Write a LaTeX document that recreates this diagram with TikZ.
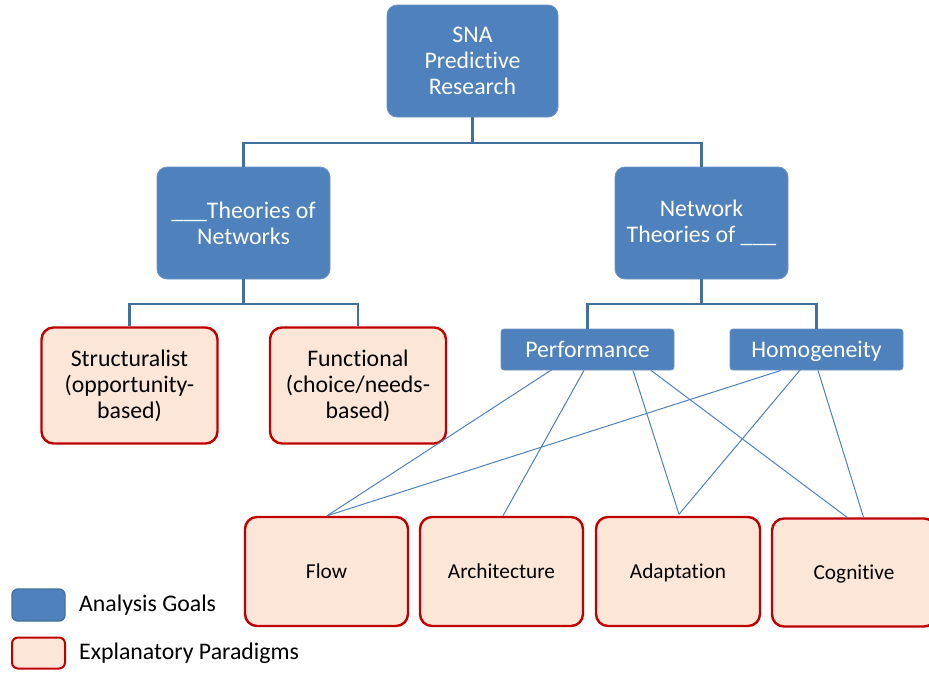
\documentclass[tikz,border=0pt]{standalone}
\usepackage{fontspec}
\setmainfont{Carlito}[RawFeature={-liga;-clig;-dlig}]
\definecolor{goalblue}{HTML}{4F81BD}
\definecolor{goaledge}{HTML}{41719C}
\definecolor{paraedge}{HTML}{C00000}
\definecolor{parafill}{HTML}{FCE6D7}
\begin{document}
\begin{tikzpicture}[x=1pt,y=-1pt,
  goal/.style={draw=goalblue!85!white,line width=0.8pt,fill=goalblue,rounded corners=10pt,
    text=white,align=center,inner sep=0pt,font=\fontsize{23.8}{26}\selectfont},
  smallgoal/.style={goal,rounded corners=3pt,text height=19pt,text depth=4pt},
  paradigm/.style={draw=paraedge,line width=2.4pt,fill=parafill,rounded corners=12pt,
    text=black,align=center,inner sep=0pt,font=\fontsize{23.8}{26}\selectfont},
  bottombox/.style={paradigm,font=\fontsize{21.3}{24}\selectfont,text height=18pt,text depth=4pt},
  tree/.style={draw=goaledge,line width=2.6pt},
  link/.style={draw=goalblue,line width=1pt},
  legendtext/.style={anchor=west,inner sep=0pt,font=\fontsize{23.8}{26}\selectfont}]
\useasboundingbox (0,0) rectangle (929,672);

% analysis goals
\node[goal,minimum width=171pt,minimum height=112pt] (sna) at (472.5,61)
  {SNA\\Predictive\\Research};
\node[goal,minimum width=173pt,minimum height=112pt] (theo) at (243.5,223)
  {\_\_\_Theories of\\Networks};
\node[goal,minimum width=173pt,minimum height=112pt] (net) at (701.5,223)
  {Network\\Theories of \_\_\_};
\node[smallgoal,minimum width=173pt,minimum height=41pt] (perf) at (587.5,349.5) {Performance};
\node[smallgoal,minimum width=173pt,minimum height=41pt] (homo) at (816.5,349.5) {Homogeneity};

% explanatory paradigms
\node[paradigm,minimum width=176pt,minimum height=116pt] (struct) at (129.5,385.5)
  {Structuralist\\(opportunity-\\based)};
\node[paradigm,minimum width=176pt,minimum height=116pt] (func) at (358,385.5)
  {Functional\\(choice/needs-\\based)};
\node[bottombox,minimum width=163pt,minimum height=109pt] (flow) at (326.5,571.5) {Flow};
\node[bottombox,minimum width=163pt,minimum height=109pt] (arch) at (501.5,571.5) {Architecture};
\node[bottombox,minimum width=164pt,minimum height=109pt] (adap) at (678,571.5) {Adaptation};
\node[bottombox,minimum width=164pt,minimum height=108pt] (cogn) at (854,572.5) {Cognitive};

% hierarchy
\draw[tree] (sna.south) |- (243.5,143) coordinate (tl) -- (theo.north);
\draw[tree] (sna.south) |- (701.5,143) coordinate (tr) -- (net.north);
\draw[tree] (theo.south) |- (129.5,304) coordinate (sl) -- (struct.north);
\draw[tree] (theo.south) |- (358,304) coordinate (sr) -- (func.north);
\draw[tree] (net.south) |- (587.5,304) coordinate (pl) -- (perf.north);
\draw[tree] (net.south) |- (816.5,304) coordinate (pr) -- (homo.north);

% links from goals to paradigms
\draw[link] ([xshift=-34.5pt,yshift=1.5pt]perf.south) -- ([xshift=0.5pt]flow.north);
\draw[link] ([xshift=-3.5pt]perf.south) -- ([xshift=1.5pt]arch.north);
\draw[link] ([xshift=45.5pt]perf.south) -- ([xshift=1pt,yshift=1.5pt]adap.north);
\draw[link] ([xshift=63.5pt]perf.south) -- ([xshift=-7pt]cogn.north);
\draw[link] ([xshift=-35.5pt]homo.south) -- ([xshift=0.5pt]flow.north);
\draw[link] ([xshift=-15.5pt,yshift=1.5pt]homo.south) -- ([xshift=1pt,yshift=1.5pt]adap.north);
\draw[link] ([xshift=1.5pt]homo.south) -- ([xshift=9.5pt]cogn.north);

% legend
\node[draw=goaledge,line width=1.4pt,fill=goalblue,rounded corners=6pt,
  minimum width=53pt,minimum height=32pt,inner sep=0pt] (lgoal) at (38.5,605) {};
\node[draw=paraedge,line width=2pt,fill=parafill,rounded corners=6pt,
  minimum width=53pt,minimum height=31pt,inner sep=0pt] (lpara) at (38.5,653) {};
\node[legendtext] (lgoaltxt) at (79,605) {Analysis Goals};
\node[legendtext] (lparatxt) at (79,653) {Explanatory Paradigms};
\end{tikzpicture}
\end{document}
